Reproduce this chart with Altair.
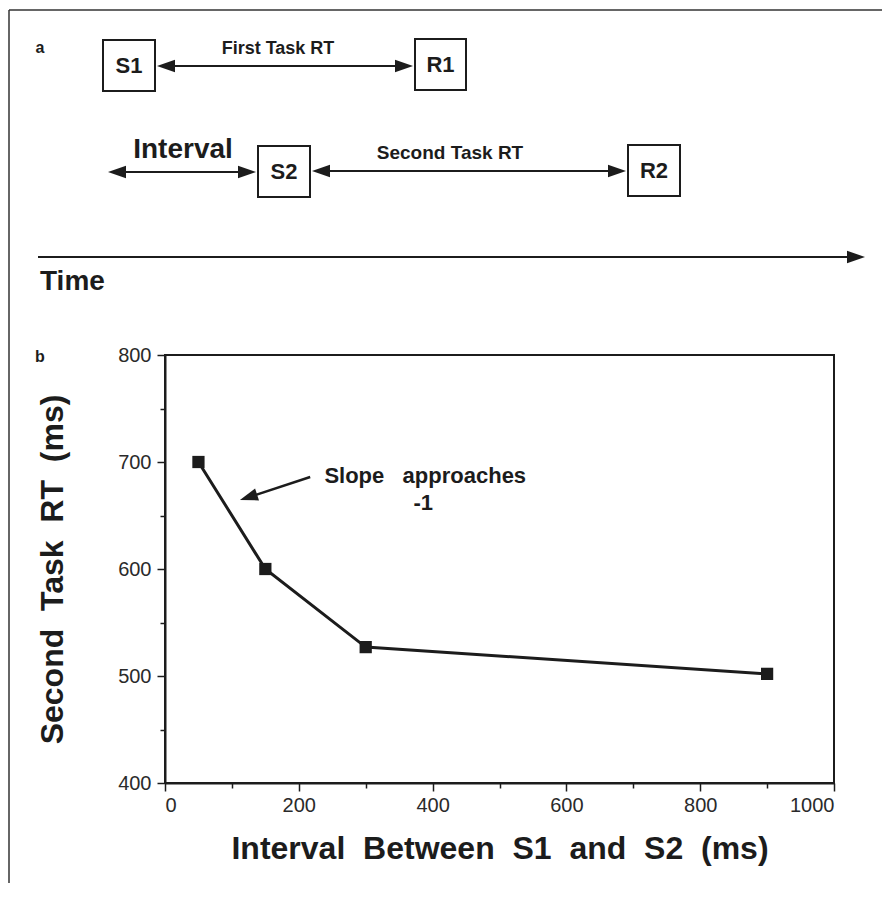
import altair as alt
import pandas as pd

# ---------------- data: panel b ----------------
interval_ms = [50, 150, 300, 900]
second_task_rt_ms = [700, 600, 527, 502]

x_tick_values = [0, 100, 200, 300, 400, 500, 600, 700, 800, 900, 1000]
y_tick_values = [400, 450, 500, 550, 600, 650, 700, 750, 800]

x_title = "Interval \u00a0Between \u00a0S1 \u00a0and \u00a0S2 \u00a0(ms)"
y_title = "Second \u00a0Task \u00a0RT \u00a0(ms)"

annotation_lines = ["Slope \u00a0 approaches", "-1"]

# ---------------- content: panel a (schematic) ----------------
box_labels = ["S1", "R1", "S2", "R2"]
span_labels = ["First Task RT", "Interval", "Second Task RT"]
axis_label = "Time"
panel_labels = ["a", "b"]

# ---------------- layout (schematic positions, page units) ----------------
FONT = "Liberation Sans"
INK = "#1c1c1c"

box_x = [103, 415, 258, 628]
box_x2 = [155, 466, 310, 680]
box_y = [40, 39, 146, 145]
box_y2 = [91, 90, 197, 196]

span_tx = [278, 183, 450]
span_ty = [49, 150, 153]
span_size = [18, 28, 19]

arrow_x = [160, 111, 315, 38]
arrow_x2 = [410, 253, 623, 860]
arrow_y = [66, 172, 171, 257]

head_x = [157, 413, 108, 256, 312, 626, 865]
head_y = [66, 66, 172, 172, 171, 171, 257]
head_dir = ["L", "R", "L", "R", "L", "R", "R"]

LEFT_HEAD = "M0,0 L2,-0.7 L2,0.7 Z"
RIGHT_HEAD = "M0,0 L-2,-0.7 L-2,0.7 Z"

LX = alt.Scale(domain=[165, 834], zero=False, nice=False)
LY = alt.Scale(domain=[355, 783], zero=False, nice=False, reverse=True)

# ---------------- plot layers ----------------
df = pd.DataFrame({"interval": interval_ms, "rt": second_task_rt_ms})
XS = alt.Scale(domain=[0, 1000], nice=False, zero=False)
YS = alt.Scale(domain=[400, 800], nice=False, zero=False)

x_axis = alt.Axis(
    values=x_tick_values, format="d",
    labelExpr="datum.value % 200 === 0 ? datum.label : ''",
    tickSize={"condition": {"test": "datum.value % 200 === 0", "value": 8}, "value": 5},
    grid=False,
    labelFont=FONT, labelFontSize=20, labelColor="#2a2a2a", labelPadding=4,
    title=x_title, titleFont=FONT, titleFontSize=32, titleFontWeight="bold",
    titleColor=INK, titlePadding=18,
    domainColor=INK, domainWidth=2, tickColor=INK, tickWidth=1.5,
)
y_axis = alt.Axis(
    values=y_tick_values, format="d",
    labelExpr="datum.value % 100 === 0 ? datum.label : ''",
    tickSize={"condition": {"test": "datum.value % 100 === 0", "value": 8}, "value": 5},
    grid=False,
    labelFont=FONT, labelFontSize=20, labelColor="#2a2a2a", labelPadding=6,
    title=y_title, titleFont=FONT, titleFontSize=32, titleFontWeight="bold",
    titleColor=INK, titlePadding=48,
    domainColor=INK, domainWidth=2, tickColor=INK, tickWidth=1.5,
)

line = alt.Chart(df).mark_line(color=INK, strokeWidth=3).encode(
    x=alt.X("interval:Q", scale=XS, axis=x_axis),
    y=alt.Y("rt:Q", scale=YS, axis=y_axis),
)
points = alt.Chart(df).mark_point(shape="square", filled=True, size=150, color=INK, opacity=1).encode(
    x=alt.X("interval:Q", scale=XS),
    y=alt.Y("rt:Q", scale=YS),
)

ann = pd.DataFrame({
    "txt": annotation_lines,
    "x": [389, 386],
    "y": [687, 662],
})
ann_text = alt.Chart(ann).mark_text(font=FONT, fontSize=22, fontWeight="bold", color=INK,
                                    baseline="middle", align="center").encode(
    x=alt.X("x:Q", scale=XS), y=alt.Y("y:Q", scale=YS), text="txt:N")

ann_arrow = pd.DataFrame({"x": [217], "x2": [125], "y": [686], "y2": [667]})
ann_rule = alt.Chart(ann_arrow).mark_rule(color=INK, strokeWidth=2.5).encode(
    x=alt.X("x:Q", scale=XS), x2="x2:Q", y=alt.Y("y:Q", scale=YS), y2="y2:Q")
ann_head = pd.DataFrame({"x": [112], "y": [664.5], "shape": [RIGHT_HEAD], "ang": [162]})
ann_tip = alt.Chart(ann_head).mark_point(filled=True, size=324, color=INK, opacity=1).encode(
    x=alt.X("x:Q", scale=XS), y=alt.Y("y:Q", scale=YS),
    shape=alt.Shape("shape:N", scale=None), angle=alt.Angle("ang:Q", scale=None))

plot = alt.layer(line, points, ann_text, ann_rule, ann_tip)

# ---------------- schematic layers ----------------
boxes = pd.DataFrame({"x": box_x, "x2": box_x2, "y": box_y, "y2": box_y2, "label": box_labels})
box_rect = alt.Chart(boxes).mark_rect(fill="white", stroke=INK, strokeWidth=2).encode(
    x=alt.X("x:Q", scale=LX, axis=None), x2="x2:Q",
    y=alt.Y("y:Q", scale=LY, axis=None), y2="y2:Q")
boxes["cx"] = [(a + b) / 2 for a, b in zip(box_x, box_x2)]
boxes["cy"] = [(a + b) / 2 for a, b in zip(box_y, box_y2)]
box_text = alt.Chart(boxes).mark_text(font=FONT, fontSize=22, fontWeight="bold", color=INK,
                                      baseline="middle", align="center").encode(
    x=alt.X("cx:Q", scale=LX, axis=None), y=alt.Y("cy:Q", scale=LY, axis=None), text="label:N")

spans = pd.DataFrame({"txt": span_labels, "x": span_tx, "y": span_ty, "s": span_size})
span_text = alt.Chart(spans).mark_text(font=FONT, fontWeight="bold", color=INK,
                                       baseline="middle", align="center").encode(
    x=alt.X("x:Q", scale=LX, axis=None), y=alt.Y("y:Q", scale=LY, axis=None),
    text="txt:N", size=alt.Size("s:Q", scale=None, legend=None))

arrows = pd.DataFrame({"x": arrow_x, "x2": arrow_x2, "y": arrow_y})
arrow_rules = alt.Chart(arrows).mark_rule(color=INK, strokeWidth=2).encode(
    x=alt.X("x:Q", scale=LX, axis=None), x2="x2:Q", y=alt.Y("y:Q", scale=LY, axis=None))

heads = pd.DataFrame({"x": head_x, "y": head_y,
                      "shape": [LEFT_HEAD if d == "L" else RIGHT_HEAD for d in head_dir]})
arrow_heads = alt.Chart(heads).mark_point(filled=True, size=324, color=INK, opacity=1).encode(
    x=alt.X("x:Q", scale=LX, axis=None), y=alt.Y("y:Q", scale=LY, axis=None),
    shape=alt.Shape("shape:N", scale=None))

time_df = pd.DataFrame({"txt": [axis_label], "x": [40], "y": [282]})
time_text = alt.Chart(time_df).mark_text(font=FONT, fontSize=28, fontWeight="bold", color=INK,
                                         baseline="middle", align="left").encode(
    x=alt.X("x:Q", scale=LX, axis=None), y=alt.Y("y:Q", scale=LY, axis=None), text="txt:N")

panel_df = pd.DataFrame({"txt": panel_labels, "x": [40, 40], "y": [48, 357]})
panel_text = alt.Chart(panel_df).mark_text(font=FONT, fontSize=16, fontWeight="bold", color=INK,
                                           baseline="middle", align="center").encode(
    x=alt.X("x:Q", scale=LX, axis=None), y=alt.Y("y:Q", scale=LY, axis=None), text="txt:N")

frame_df = pd.DataFrame({"x": [9, 9], "x2": [9, 882], "y": [10, 10], "y2": [898, 10]})
frame = alt.Chart(frame_df).mark_rule(color="#333333", strokeWidth=1.5).encode(
    x=alt.X("x:Q", scale=LX, axis=None), x2="x2:Q",
    y=alt.Y("y:Q", scale=LY, axis=None), y2="y2:Q")

schematic = alt.layer(frame, arrow_rules, arrow_heads, box_rect, box_text, span_text,
                      time_text, panel_text)

chart = alt.layer(plot, schematic).resolve_scale(x="independent", y="independent").properties(
    width=669, height=428,
    padding={"left": 157, "top": 347, "right": 48, "bottom": 100},
    autosize=alt.AutoSizeParams(type="none"),
    background="white",
).configure_view(stroke=INK, strokeWidth=2)

chart.save("out.html", embed_options={"renderer": "svg", "actions": False})
